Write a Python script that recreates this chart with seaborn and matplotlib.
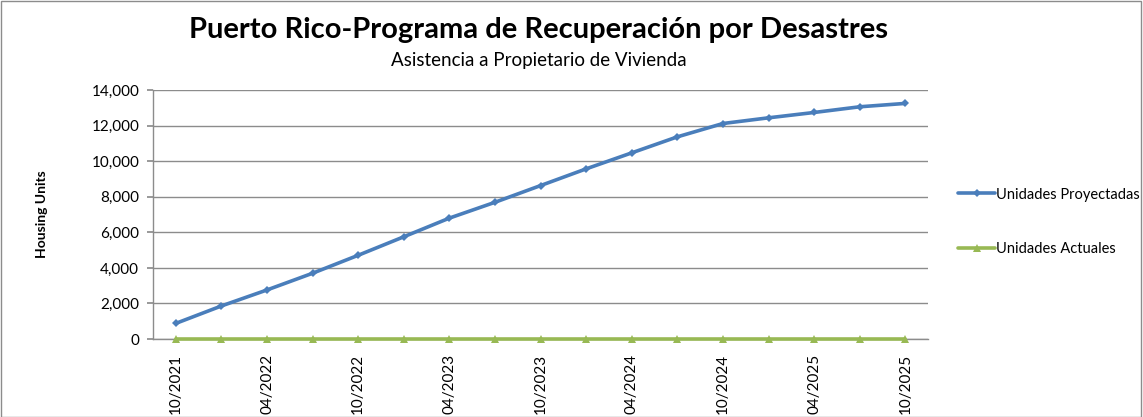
import matplotlib
matplotlib.use("Agg")
import matplotlib.pyplot as plt
import seaborn as sns
import pandas as pd
import numpy as np

# quarterly periods, 10/2021 .. 10/2025
periods = ["10/2021", "01/2022", "04/2022", "07/2022", "10/2022", "01/2023",
           "04/2023", "07/2023", "10/2023", "01/2024", "04/2024", "07/2024",
           "10/2024", "01/2025", "04/2025", "07/2025", "10/2025"]
proyectadas = [880, 1860, 2760, 3700, 4710, 5750, 6800, 7690, 8630, 9570,
               10470, 11370, 12120, 12440, 12740, 13060, 13250]
actuales = [0] * 17

sns.set_theme(style="white")
plt.rcParams["font.family"] = ["Lato", "DejaVu Sans"]
plt.rcParams["text.color"] = "black"
plt.rcParams["xtick.color"] = "black"
plt.rcParams["ytick.color"] = "black"
plt.rcParams["axes.labelcolor"] = "black"

df = pd.DataFrame({"idx": np.arange(len(periods)),
                   "Unidades Proyectadas": proyectadas,
                   "Unidades Actuales": actuales})

fig = plt.figure(figsize=(11.43, 4.17), dpi=100)
ax = fig.add_axes([0.1339, 0.187, 0.6781, 0.597])

sns.lineplot(data=df, x="idx", y="Unidades Proyectadas", ax=ax, color="#4a7ebb",
             linewidth=2.6, marker="D", markersize=4.5, markeredgewidth=0,
             label="Unidades Proyectadas", zorder=3)
sns.lineplot(data=df, x="idx", y="Unidades Actuales", ax=ax, color="#98b954",
             linewidth=2.6, marker="^", markersize=5.5, markeredgewidth=0,
             label="Unidades Actuales", zorder=4, clip_on=False)

ax.set_xlim(-0.5, len(periods) - 0.5)
ax.set_ylim(0, 14000)
ax.set_yticks(range(0, 14001, 2000))
ax.set_yticklabels([f"{v:,}" for v in range(0, 14001, 2000)], fontsize=11)
ax.set_xticks(np.arange(0, len(periods), 2))
ax.set_xticklabels(periods[::2], rotation=90, fontsize=11)
ax.set_xlabel("")
ax.set_ylabel("Housing Units", fontsize=10, fontweight="bold", labelpad=31)
ax.yaxis.grid(True, color="#8c8c8c", linewidth=1)
ax.set_axisbelow(True)
for s in ["top", "right"]:
    ax.spines[s].set_visible(False)
for s in ["left", "bottom"]:
    ax.spines[s].set_color("#8c8c8c")
    ax.spines[s].set_linewidth(1)
ax.tick_params(axis="y", left=True, length=4, color="#8c8c8c", pad=6)
ax.tick_params(axis="x", bottom=False, pad=5)

leg = ax.legend(loc="center left", bbox_to_anchor=(1.022, 0.47), frameon=False,
                fontsize=10.5, labelspacing=2.8, handlelength=2.5, handletextpad=0.1)

fig.text(0.471, 0.928, "Puerto Rico-Programa de Recuperación por Desastres",
         ha="center", va="center", fontsize=21, fontweight="bold")
fig.text(0.471, 0.855, "Asistencia a Propietario de Vivienda",
         ha="center", va="center", fontsize=13.5)

border = plt.Rectangle((0.0005, 0.001), 0.998, 0.997, transform=fig.transFigure,
                       fill=False, edgecolor="#8c8c8c", linewidth=1)
fig.patches.append(border)

fig.savefig("out.png", dpi=100)
